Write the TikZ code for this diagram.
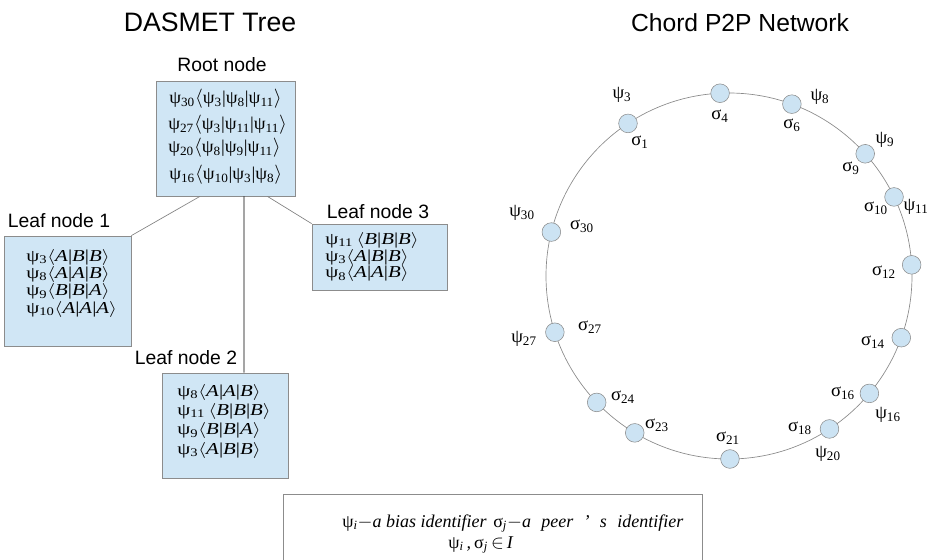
\documentclass[tikz,border=0pt]{standalone}
\usepackage{fontspec}
\usepackage{graphicx}
\setmainfont{Liberation Serif}
\newfontfamily\headfont{Liberation Sans}
\usetikzlibrary{fit,calc}

\definecolor{boxblue}{HTML}{D0E6F5}
\definecolor{boxedge}{HTML}{8C8C8C}
\definecolor{peerblue}{HTML}{CCE3F3}
\definecolor{ringgray}{HTML}{8A8A8A}

% identifiers with subscripts, and a three-way bias vector
\newcommand\psx[1]{ψ\textsubscript{#1}}
\newcommand\sgx[1]{σ\textsubscript{#1}}
\newcommand\angl{$\langle$}
\newcommand\angr{$\rangle$}
\newcommand\tri[3]{\angl#1|#2|#3\angr}
\newcommand\itA{\textit{A}}
\newcommand\itB{\textit{B}}
% rows of bias vectors are set a little wide
\newcommand\wide[1]{\scalebox{1.25}[1]{#1}}
\newcommand\wider[1]{\scalebox{1.05}[1]{#1}}
% legend phrase spread to a given width (in 0.75pt units)
\newcommand\spread[2]{\makebox[#1\dimexpr 0.75pt\relax][s]{#2}}

\begin{document}
\begin{tikzpicture}[x=0.75pt,y=-0.75pt,
  box/.style={draw=boxedge, fill=boxblue, line width=0.6pt, inner sep=0pt},
  heading/.style={font=\headfont\fontsize{20}{24}\selectfont, anchor=base, inner sep=0pt},
  caption/.style={font=\headfont\fontsize{14.5}{17}\selectfont, anchor=base, inner sep=0pt},
  rootrow/.style={font=\fontsize{13.5}{16}\selectfont, anchor=west, inner sep=0pt},
  leafrows/.style={font=\fontsize{12.5}{#1}\selectfont, anchor=west, align=left, inner sep=0pt},
  link/.style={draw=gray, line width=0.5pt},
  trunk/.style={draw=black, line width=0.6pt},
  ring/.style={draw=ringgray, line width=0.5pt},
  peer/.style={circle, draw=ringgray, line width=0.4pt, fill=peerblue, minimum size=14pt, inner sep=0pt},
  plabel/.style={font=\fontsize{14}{16}\selectfont, inner sep=0pt},
  legendtext/.style={font=\fontsize{13.5}{16}\selectfont\itshape, anchor=base west, inner sep=0pt}
]
\useasboundingbox (0,0) rectangle (929,560);

% ---------------- DASMET tree ----------------
\node[heading] (t1) at (210,32) {DASMET Tree};

\node[box, fit={(156,81) (295,196)}] (root) {};
\node[caption] (rootcap) at (222,72) {Root node};
\node[rootrow] (r1) at (169,99)  {\wider{\psx{30}\tri{\psx{3}}{\psx{8}}{\psx{11}}}};
\node[rootrow] (r2) at (168,125) {\wider{\psx{27}\tri{\psx{3}}{\psx{11}}{\psx{11}}}};
\node[rootrow] (r3) at (168,148) {\wider{\psx{20}\tri{\psx{8}}{\psx{9}}{\psx{11}}}};
\node[rootrow] (r4) at (169,175) {\wider{\psx{16}\tri{\psx{10}}{\psx{3}}{\psx{8}}}};

\node[box, fit={(4,236) (131,346)}] (leaf1) {};
\node[caption] (l1cap) at (59,227) {Leaf node 1};
\node[leafrows=11.5] (rows1) at (26,283) {%
  \wide{\psx{3}\tri{\itA}{\itB}{\itB}}\\
  \wide{\psx{8}\tri{\itA}{\itA}{\itB}}\\
  \wide{\psx{9}\tri{\itB}{\itB}{\itA}}\\
  \wide{\psx{10}\tri{\itA}{\itA}{\itA}}};

\node[box, fit={(312,224) (447,290)}] (leaf3) {};
\node[caption] (l3cap) at (378,218) {Leaf node 3};
\node[leafrows=12.5] (rows3) at (325,257) {%
  \wide{\psx{11}\,\tri{\itB}{\itB}{\itB}}\\
  \wide{\psx{3}\tri{\itA}{\itB}{\itB}}\\
  \wide{\psx{8}\tri{\itA}{\itA}{\itB}}};

\node[box, fit={(162,373) (288,478)}] (leaf2) {};
\node[caption] (l2cap) at (186,364) {Leaf node 2};
\node[leafrows=14.5] (rows2) at (177,421) {%
  \wide{\psx{8}\tri{\itA}{\itA}{\itB}}\\
  \wide{\psx{11}\,\tri{\itB}{\itB}{\itB}}\\
  \wide{\psx{9}\tri{\itB}{\itB}{\itA}}\\
  \wide{\psx{3}\tri{\itA}{\itB}{\itB}}};

% tree edges
\draw[link]  ($(root.south west)!0.317!(root.south east)$) -- (leaf1.north east);
\draw[trunk] ($(root.south west)!0.633!(root.south east)$) -- ($(leaf2.north west)!0.65!(leaf2.north east)$);
\draw[link]  ($(root.south west)!0.80!(root.south east)$) -- (leaf3.north west);

% ---------------- Chord ring ----------------
\node[heading, font=\headfont\fontsize{18.5}{22}\selectfont] (t2) at (740,32) {Chord P2P Network};

\coordinate (ctr) at (729,276);
\draw[ring] (ctr) circle [radius=183];

\foreach \nm/\ang in {s1/123.5, s4/92.8, s6/69.9, s9/41.9, s10/25.6, s12/3.5,
                      s14/-19.7, s16/-39.9, s18/-56.7, s21/-89.7, s23/-121,
                      s24/-136.3, s27/-162.1, s30/166.1}
  \node[peer] (\nm) at ([shift={(ctr)}]-\ang:183) {};

\node[plabel] (lp3)  at (622,95)  {\psx{3}};
\node[plabel] (ls1)  at (640,142) {\sgx{1}};
\node[plabel] (ls4)  at (720,116) {\sgx{4}};
\node[plabel] (ls6)  at (792,125) {\sgx{6}};
\node[plabel] (lp8)  at (820,97)  {\psx{8}};
\node[plabel] (lp9)  at (885,140) {\psx{9}};
\node[plabel] (ls9)  at (851,168) {\sgx{9}};
\node[plabel] (ls10) at (876,208) {\sgx{10}};
\node[plabel] (lp11) at (916,207) {\psx{11}};
\node[plabel] (ls12) at (884,272) {\sgx{12}};
\node[plabel] (ls14) at (873,342) {\sgx{14}};
\node[plabel] (ls16) at (843,393) {\sgx{16}};
\node[plabel] (lp16) at (888,415) {\psx{16}};
\node[plabel] (ls18) at (800,428) {\sgx{18}};
\node[plabel] (lp20) at (828,454) {\psx{20}};
\node[plabel] (ls21) at (728,438) {\sgx{21}};
\node[plabel] (ls23) at (657,425) {\sgx{23}};
\node[plabel] (ls24) at (623,397) {\sgx{24}};
\node[plabel] (ls27) at (590,327) {\sgx{27}};
\node[plabel] (lp27) at (524,339) {\psx{27}};
\node[plabel] (ls30) at (582,226) {\sgx{30}};
\node[plabel] (lp30) at (522,213) {\psx{30}};

% ---------------- legend ----------------
\draw[draw=boxedge, line width=0.6pt] (283,562) -- (283,494) -- (702,494) -- (702,562);
\node[legendtext] (lg1) at (342,527)
  {{\upshape ψ}\textsubscript{i}$-$a bias identifier};
\node[legendtext] (lg2) at (493,527)
  {\spread{190}{{\upshape σ}\textsubscript{j}$-$a peer ' s identifier}};
\node[legendtext] (lg3) at (448,548)
  {{\upshape ψ}\textsubscript{i}\,,\,{\upshape σ}\textsubscript{j}\,$\in$\,I};
\end{tikzpicture}
\end{document}
